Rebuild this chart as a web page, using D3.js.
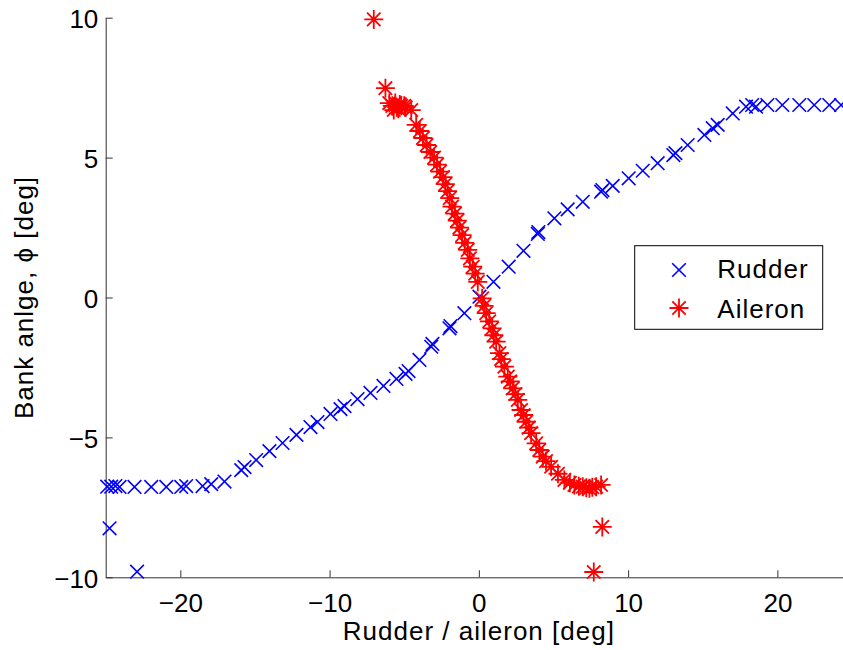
<!DOCTYPE html>
<html>
<head>
<meta charset="utf-8">
<script src="https://cdn.jsdelivr.net/npm/d3@7"></script>
<style>
  html, body { margin: 0; padding: 0; background: #fff; }
  svg { display: block; }
  text { font-family: "Liberation Sans", Arial, Helvetica, sans-serif; fill: #000; }
</style>
</head>
<body>
<svg id="chart" width="843" height="650"></svg>
<script>
// ---- data ----
const rudderX = [-24.9, -24.63, -24.35, -24.07, -23.07, -21.95, -20.94, -19.94, -19.61, -18.51, -17.93, -17.04,
  -15.92, -15.70, -14.92, -14.03, -13.15, -12.22, -11.28, -10.81, -9.94, -9.27, -9.00, -8.13, -7.26, -6.39,
  -5.52, -4.91, -4.71, -3.98, -3.19, -3.11, -1.97, -1.90, -0.97, 0.04, 0.98, 2.00, 2.99, 3.95, 3.99, 5.06,
  5.95, 6.96, 8.19, 8.28, 8.97, 10.04, 10.98, 11.98, 13.03, 13.17, 13.99, 15.11, 15.67, 16.00, 17.01, 17.90,
  18.31, 18.57, 19.33, 20.33, 21.47, 22.47, 23.48, 24.27, -24.74, -22.9];
const rudderY = [-6.76, -6.76, -6.74, -6.77, -6.77, -6.77, -6.77, -6.77, -6.74, -6.74, -6.67, -6.58,
  -6.17, -6.06, -5.81, -5.49, -5.20, -4.91, -4.63, -4.45, -4.16, -3.99, -3.88, -3.63, -3.41, -3.16,
  -2.91, -2.73, -2.63, -2.23, -1.76, -1.66, -1.10, -1.02, -0.56, 0.03, 0.56, 1.10, 1.67, 2.27, 2.34, 2.83,
  3.15, 3.42, 3.78, 3.84, 3.99, 4.26, 4.53, 4.80, 5.09, 5.16, 5.45, 5.81, 6.05, 6.17, 6.58, 6.82,
  6.88, 6.82, 6.88, 6.88, 6.88, 6.88, 6.88, 6.88, -8.25, -9.8];

const aileronX = [-7.04, -6.26, -6.0, -5.8, -5.6, -5.5, -5.3, -5.2, -5.0, -4.9, -5.7, -5.4, -4.53,
  -4.2, -3.95, -3.75, -3.5, -3.25, -3.0, -2.8, -2.6, -2.4, -2.25, -2.1, -1.95, -1.8, -1.6, -1.45, -1.3,
  -1.12, -0.95, -0.74, -0.6, -0.41, -0.25, -0.07, 0.22, 0.35, 0.49, 0.7, 0.89, 1.0, 1.16, 1.38, 1.5,
  1.71, 1.94, 2.1, 2.27, 2.45, 2.61, 2.83, 3.0, 3.17, 3.35, 3.50, 3.84, 4.05, 4.28, 4.5, 4.84, 5.3,
  5.73, 6.1, 6.40, 6.7, 6.96, 7.2, 7.41, 7.6, 7.86, 8.19, 8.27, 7.70];
const aileronY = [9.94, 7.48, 6.95, 6.85, 6.95, 6.8, 6.9, 6.85, 6.85, 6.8, 6.7, 6.75, 6.70,
  6.17, 5.95, 5.7, 5.45, 5.2, 5.0, 4.75, 4.5, 4.3, 4.05, 3.8, 3.55, 3.25, 3.0, 2.75, 2.5,
  2.23, 1.95, 1.70, 1.4, 1.10, 0.85, 0.56, -0.03, -0.3, -0.56, -0.85, -1.10, -1.35, -1.58, -1.99, -2.2,
  -2.47, -2.83, -3.0, -3.25, -3.45, -3.66, -4.02, -4.2, -4.44, -4.65, -4.85, -5.21, -5.45, -5.69, -5.85, -6.05, -6.3,
  -6.52, -6.62, -6.70, -6.75, -6.76, -6.8, -6.82, -6.78, -6.76, -6.70, -8.20, -9.81];

const xTicks = [-20, -10, 0, 10, 20];
const yTicks = [-10, -5, 0, 5, 10];
const seriesNames = ["Rudder", "Aileron"];
const xLabel = "Rudder / aileron [deg]";
const yLabel = "Bank anlge, \u03D5 [deg]";

// ---- drawing ----
const svg = d3.select("#chart");
const x = d3.scaleLinear().domain([-25, 25]).range([105.7, 852]);
const y = d3.scaleLinear().domain([-10, 10]).range([577.3, 17.7]);
const FONT = 26;
const axisColor = "#333";

const xAxis = d3.axisBottom(x).tickValues(xTicks).tickSizeInner(-7).tickSizeOuter(0).tickPadding(0);
const gx = svg.append("g").attr("transform", `translate(0,${y(-10)})`).call(xAxis);
gx.selectAll("text").attr("dy", null).attr("y", 34.7).style("font-size", FONT + "px")
  .style("font-family", "'Liberation Sans', Arial, sans-serif").attr("fill", "#000");

const yAxis = d3.axisLeft(y).tickValues(yTicks).tickSizeInner(-7).tickSizeOuter(0).tickPadding(7.4);
const gy = svg.append("g").attr("transform", `translate(${x(-25)},0)`).call(yAxis);
gy.selectAll("text").attr("dy", "0.38em").style("font-size", FONT + "px")
  .style("font-family", "'Liberation Sans', Arial, sans-serif").attr("fill", "#000");

[gx, gy].forEach(g => {
  g.select(".domain").attr("stroke", axisColor).attr("stroke-width", 1);
  g.selectAll(".tick line").attr("stroke", axisColor).attr("stroke-width", 1);
});

// axis labels
svg.append("text").attr("x", (x(-25) + x(25)) / 2).attr("y", 640)
  .attr("text-anchor", "middle").style("font-size", FONT + "px").style("letter-spacing", "1px")
  .text(xLabel);

svg.append("text").attr("transform", `translate(33,${(y(-10) + y(10)) / 2}) rotate(-90)`)
  .attr("text-anchor", "middle").style("font-size", FONT + "px").style("letter-spacing", "1px")
  .text(yLabel);

// markers
const rx = 6.8;
const xPath = `M${-rx},${-rx}L${rx},${rx}M${-rx},${rx}L${rx},${-rx}`;
const R = 9.5, dd = 6.7;
const starPath = `M${-R},0H${R}M0,${-R}V${R}M${-dd},${-dd}L${dd},${dd}M${-dd},${dd}L${dd},${-dd}`;

const rudder = rudderX.map((v, i) => ({ x: v, y: rudderY[i] }));
const aileron = aileronX.map((v, i) => ({ x: v, y: aileronY[i] }));

svg.append("g").selectAll("path").data(rudder).join("path")
  .attr("d", xPath).attr("transform", d => `translate(${x(d.x)},${y(d.y)})`)
  .attr("fill", "none").attr("stroke", "#0000ff").attr("stroke-width", 1.6);

svg.append("g").selectAll("path").data(aileron).join("path")
  .attr("d", starPath).attr("transform", d => `translate(${x(d.x)},${y(d.y)})`)
  .attr("fill", "none").attr("stroke", "#ff0000").attr("stroke-width", 1.8);

// legend
const lg = svg.append("g");
lg.append("rect").attr("x", 634.7).attr("y", 245.7).attr("width", 188).attr("height", 83.6)
  .attr("fill", "#fff").attr("stroke", "#000").attr("stroke-width", 1);
const legendItems = [
  { name: seriesNames[0], path: xPath, color: "#0000ff", sw: 1.6, my: 270, ty: 278.3 },
  { name: seriesNames[1], path: starPath, color: "#ff0000", sw: 1.8, my: 308, ty: 317.7 }
];
legendItems.forEach(it => {
  lg.append("path").attr("d", it.path).attr("transform", `translate(679,${it.my})`)
    .attr("fill", "none").attr("stroke", it.color).attr("stroke-width", it.sw);
  lg.append("text").attr("x", 717.3).attr("y", it.ty).style("font-size", FONT + "px")
    .style("letter-spacing", "1px").text(it.name);
});
</script>
</body>
</html>
